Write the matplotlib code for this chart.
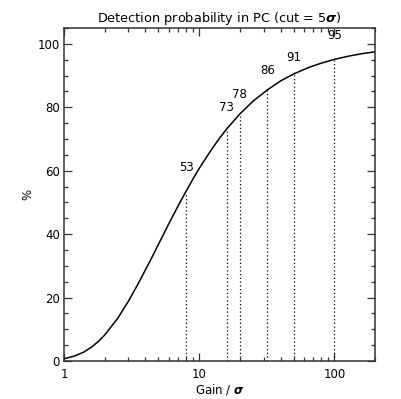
import matplotlib
matplotlib.use('Agg')
import matplotlib.pyplot as plt
import numpy as np
from matplotlib.ticker import MultipleLocator, LogLocator, NullFormatter, FixedLocator

# curve (gain/sigma vs detection probability in %)
gain = [1, 1.2, 1.4, 1.6, 1.8, 2, 2.5, 3, 3.5, 4, 4.5, 5, 6, 7, 8, 9, 10, 12, 14,
        16, 20, 25, 32, 40, 50, 65, 80, 100, 130, 160, 200]
prob = [0.7, 1.6, 2.8, 4.4, 6.2, 8.2, 13.5, 18.9, 24.0, 28.7, 32.9, 36.8, 43.5, 49.0,
        53.5, 57.4, 60.7, 65.9, 70.0, 73.2, 77.9, 81.9, 85.5, 88.3, 90.5, 92.6, 93.9,
        95.1, 96.2, 96.9, 97.5]

# marked gains and their labelled probabilities
mark_gain = [8, 16, 20, 32, 50, 100]
mark_prob = [53, 73, 78, 86, 91, 95]
mark_text = ['53', '73', '78', '86', '91', '95']
label_y = [59, 78, 82, 89.5, 93.5, 100.5]

plt.rcParams['font.family'] = 'DejaVu Sans'
fig = plt.figure(figsize=(4.01, 3.99), dpi=100)
ax = fig.add_axes([64/401, 1-361/399, 311/401, 333/399])

ax.plot(gain, prob, color='black', lw=1.1)
ax.vlines(mark_gain, 0, mark_prob, colors='black', lw=0.9, linestyles=(0, (1, 2)))
for g, ly, t in zip(mark_gain, label_y, mark_text):
    ax.text(g, ly, t, ha='center', va='bottom', fontsize=8.5)

ax.set_xscale('log')
ax.set_xlim(1, 200)
ax.set_ylim(0, 105)
ax.xaxis.set_major_locator(FixedLocator([1, 10, 100]))
ax.xaxis.set_major_formatter(matplotlib.ticker.FixedFormatter(['1', '10', '100']))
ax.xaxis.set_minor_locator(LogLocator(base=10, subs=np.arange(2, 10)))
ax.xaxis.set_minor_formatter(NullFormatter())
ax.yaxis.set_major_locator(MultipleLocator(20))
ax.yaxis.set_minor_locator(MultipleLocator(5))

ax.tick_params(which='both', direction='in', top=True, right=True, labelsize=8.5,
               color='#333333', width=0.9)
ax.tick_params(which='major', length=6)
ax.tick_params(which='minor', length=3)
ax.tick_params(axis='x', pad=5)
ax.tick_params(axis='y', pad=3)
for s in ax.spines.values():
    s.set_linewidth(1.1)
    s.set_color('#333333')

ax.set_title(r'Detection probability in PC (cut = 5$\boldsymbol{\sigma}$)', fontsize=9.3, pad=4)
ax.set_xlabel(r'Gain / $\boldsymbol{\sigma}$', fontsize=8.5, labelpad=1)
ax.set_ylabel('%', fontsize=8.5)
ax.yaxis.set_label_coords(-0.095, 0.5)

fig.savefig('out.png', dpi=100)
